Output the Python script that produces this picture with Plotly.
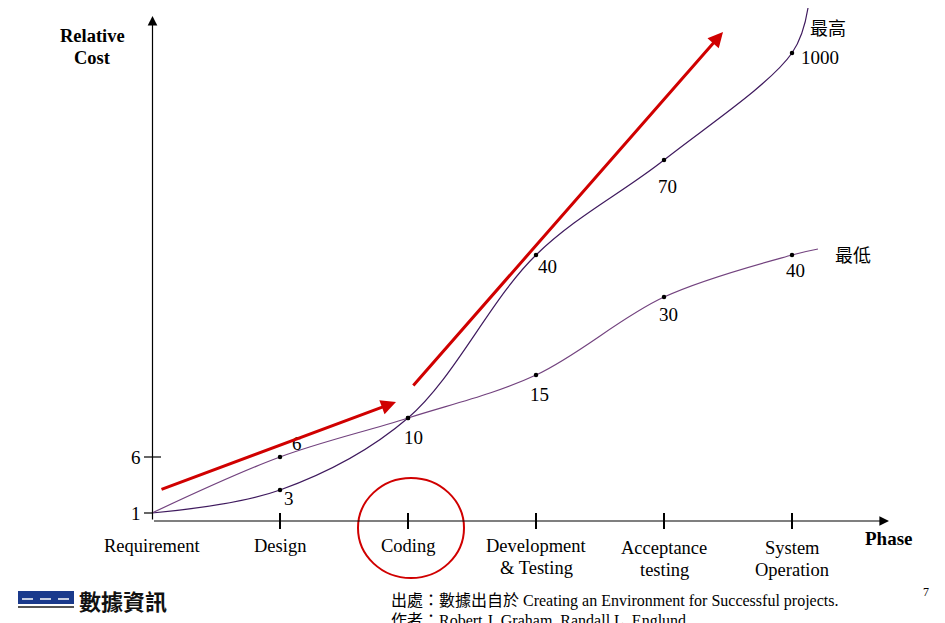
import plotly.graph_objects as go

# ---------------- data ----------------
phases = ["Requirement", "Design", "Coding", "Development<br>& Testing",
          "Acceptance<br>testing", "System<br>Operation"]
phase_idx = [0, 1, 2, 3, 4, 5]

# relative cost values (labels) and their schematic heights on the chart
high_values = [1, 3, 10, 40, 70, 1000]
high_height = [8, 31, 103, 266, 361, 468]
low_values = [1, 6, 10, 15, 30, 40]
low_height = [8, 64, 103, 146, 224, 266]

# curve continuation past the last phase
high_tail = (5.125, 513)
low_tail = (5.203, 272)

ytick_vals = [8, 64]
ytick_text = ["1", "6"]

# ---------------- styles ----------------
W, H = 945, 623
OFF = 8                      # page body margin
X0PX, XSTEP = 152, 128.0     # screen pixel of phase 0, pixels per phase
YBASE = 521                  # screen pixel row of the x axis
SERIF = "Liberation Serif"
CJK = "Noto Sans CJK TC"
RED = "#d00000"
HIGH_COLOR = "#3f1a5e"
LOW_COLOR = "#73437f"
LINE_H = 22

def px_to_x(px):
    return (px - X0PX) / XSTEP

def px_to_y(py):
    return YBASE - py

def paper_x(px):
    return (px - OFF) / W

def paper_y(py):
    return 1 - (py - OFF) / H

# label offsets (pixels) for value labels
high_off = [None, (9, 8), (5, 19), (11, 11), (3, 26), (28, 4)]
low_off = [None, (17, -14), None, (3, 19), (4, 17), (3, 15)]

fig = go.Figure()

# curves
fig.add_trace(go.Scatter(x=phase_idx + [high_tail[0]], y=high_height + [high_tail[1]],
                         mode="lines", line=dict(color=HIGH_COLOR, width=1.2, shape="spline", smoothing=1.0),
                         hoverinfo="skip"))
fig.add_trace(go.Scatter(x=phase_idx + [low_tail[0]], y=low_height + [low_tail[1]],
                         mode="lines", line=dict(color=LOW_COLOR, width=1.2, shape="spline", smoothing=1.0),
                         hoverinfo="skip"))
# dots
fig.add_trace(go.Scatter(x=phase_idx[1:] + phase_idx[1:], y=high_height[1:] + low_height[1:],
                         mode="markers", marker=dict(color="black", size=4.5), hoverinfo="skip"))

annotations = []
# value labels
for vals, hts, offs in ((high_values, high_height, high_off), (low_values, low_height, low_off)):
    for i, (v, h, o) in enumerate(zip(vals, hts, offs)):
        if o is None:
            continue
        annotations.append(dict(x=phase_idx[i], y=h, text=str(v), showarrow=False,
                                xshift=o[0], yshift=-o[1],
                                font=dict(family=SERIF, size=19, color="black")))

# x tick labels (each line placed separately)
label_top = {0: 546, 1: 546, 2: 546, 3: 546, 4: 548, 5: 548}
for i, lab in zip(phase_idx, phases):
    for k, part in enumerate(lab.split("<br>")):
        annotations.append(dict(x=i, y=px_to_y(label_top[i] + k * LINE_H), text=part, showarrow=False,
                                font=dict(family=SERIF, size=18.5, color="black")))

# y tick labels
for v, t in zip(ytick_vals, ytick_text):
    annotations.append(dict(x=px_to_x(136), y=v, text=t, showarrow=False,
                            font=dict(family=SERIF, size=19, color="black")))

# axis arrows
annotations.append(dict(x=px_to_x(152.5), y=px_to_y(16), ax=px_to_x(152.5), ay=px_to_y(521),
                        axref="x", ayref="y", text="", showarrow=True, arrowhead=2,
                        arrowsize=1.6, arrowwidth=1.2, arrowcolor="black", standoff=0))
annotations.append(dict(x=px_to_x(889), y=px_to_y(521), ax=px_to_x(152.5), ay=px_to_y(521),
                        axref="x", ayref="y", text="", showarrow=True, arrowhead=2,
                        arrowsize=1.6, arrowwidth=1.2, arrowcolor="black", standoff=0))

# red trend arrows
annotations.append(dict(x=px_to_x(396), y=px_to_y(402), ax=px_to_x(160), ay=px_to_y(490),
                        axref="x", ayref="y", text="", showarrow=True, arrowhead=2,
                        arrowsize=1.0, arrowwidth=3, arrowcolor=RED, standoff=0))
annotations.append(dict(x=px_to_x(723), y=px_to_y(32), ax=px_to_x(412), ay=px_to_y(387),
                        axref="x", ayref="y", text="", showarrow=True, arrowhead=2,
                        arrowsize=1.0, arrowwidth=3, arrowcolor=RED, standoff=0))

# axis titles
for k, part in enumerate(["Relative", "Cost"]):
    annotations.append(dict(x=px_to_x(92), y=px_to_y(36 + k * LINE_H), text="<b>%s</b>" % part,
                            showarrow=False, font=dict(family=SERIF, size=18.5, color="black")))
annotations.append(dict(x=px_to_x(889), y=px_to_y(538), text="<b>Phase</b>", showarrow=False,
                        font=dict(family=SERIF, size=19, color="black")))

# curve names
annotations.append(dict(x=px_to_x(828), y=px_to_y(27), text="最高", showarrow=False,
                        font=dict(family=CJK, size=18, color="black")))
annotations.append(dict(x=px_to_x(853), y=px_to_y(254), text="最低", showarrow=False,
                        font=dict(family=CJK, size=18, color="black")))

# footer
annotations.append(dict(x=paper_x(389), y=paper_y(599), xref="paper", yref="paper",
                        xanchor="left", yanchor="middle",
                        text="<span style='font-family:Noto Sans CJK TC'>出處：數據出自於</span> Creating an Environment for Successful projects.",
                        showarrow=False, font=dict(family=SERIF, size=16, color="black")))
annotations.append(dict(x=paper_x(389), y=paper_y(619), xref="paper", yref="paper",
                        xanchor="left", yanchor="middle",
                        text="<span style='font-family:Noto Sans CJK TC'>作者：</span>Robert J. Graham, Randall L. Englund.",
                        showarrow=False, font=dict(family=SERIF, size=16, color="black")))
annotations.append(dict(x=paper_x(926), y=paper_y(592), xref="paper", yref="paper",
                        xanchor="center", yanchor="middle",
                        text="7", showarrow=False, font=dict(family=SERIF, size=12, color="black")))
# logo text
annotations.append(dict(x=paper_x(77), y=paper_y(600), xref="paper", yref="paper",
                        xanchor="left", yanchor="middle",
                        text="<b>數據資訊</b>", showarrow=False,
                        font=dict(family=CJK, size=22, color="#111111")))

shapes = []
# x ticks
for i in phase_idx[1:]:
    shapes.append(dict(type="line", x0=i, x1=i, y0=px_to_y(513), y1=px_to_y(529),
                       line=dict(color="black", width=2)))
# y ticks
for v, x0px, x1px in zip(ytick_vals, [144, 144], [152, 161]):
    shapes.append(dict(type="line", x0=px_to_x(x0px), x1=px_to_x(x1px), y0=v, y1=v,
                       line=dict(color="black", width=1.2)))
# circle around Coding
shapes.append(dict(type="circle", x0=px_to_x(358), x1=px_to_x(464), y0=px_to_y(578), y1=px_to_y(478),
                   line=dict(color=RED, width=2)))
# logo box
shapes.append(dict(type="rect", xref="paper", yref="paper", x0=paper_x(18), x1=paper_x(74),
                   y0=paper_y(604), y1=paper_y(591), fillcolor="#1a3a8c", line=dict(width=0)))
for a, b in ((22, 33), (40, 51), (58, 69)):
    shapes.append(dict(type="line", xref="paper", yref="paper", x0=paper_x(a), x1=paper_x(b),
                       y0=paper_y(599), y1=paper_y(599), line=dict(color="white", width=1.5)))
shapes.append(dict(type="line", xref="paper", yref="paper", x0=paper_x(18), x1=paper_x(74),
                   y0=paper_y(607), y1=paper_y(607), line=dict(color="#555555", width=2)))

fig.update_layout(
    width=W, height=H,
    margin=dict(l=0, r=0, t=0, b=0),
    paper_bgcolor="white", plot_bgcolor="white",
    showlegend=False,
    xaxis=dict(range=[px_to_x(OFF), px_to_x(W + OFF)], visible=False, fixedrange=True),
    yaxis=dict(range=[px_to_y(H + OFF), px_to_y(OFF)], visible=False, fixedrange=True),
    annotations=annotations,
    shapes=shapes,
)

fig.write_html("out.html")
